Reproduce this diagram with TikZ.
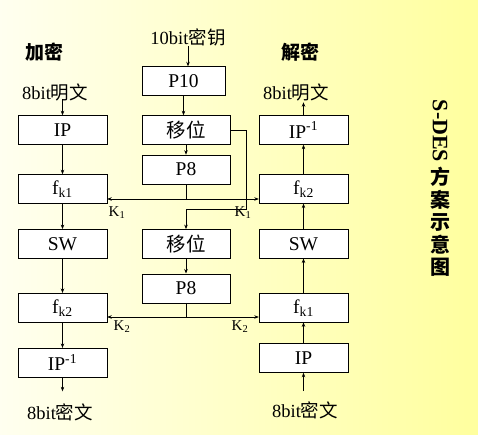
\documentclass[tikz,border=0pt]{standalone}
\usepackage{fontspec}
\setmainfont{Liberation Serif}
\newfontfamily\cjk{Noto Sans CJK SC}
\usetikzlibrary{arrows.meta,positioning}

\begin{document}
\begin{tikzpicture}[x=1pt,y=-1pt,
box/.style={draw,fill=white,minimum height=29pt,minimum width=89pt,inner sep=0pt,font=\fontsize{19.5}{21}\selectfont},
arrow/.style={-{Stealth[length=4.5pt,width=3.5pt]},line width=0.6pt},
line/.style={line width=0.6pt},
lbl/.style={inner sep=0pt,font=\fontsize{18.5}{20}\selectfont},
key/.style={inner sep=0pt,font=\fontsize{15}{17}\selectfont}
]
% background
\fill[left color=yellow!6,right color=yellow!38] (0,0) rectangle (478,435);

% encryption
\node[lbl,font=\cjk\fontsize{19}{20}\selectfont\bfseries] (enc) at (44,52) {加密};
\node[lbl] (inL) at (55,92) {8bit{\cjk 明文}};
\node[box] (ipL) at (62.5,130) {IP};
\node[box,below=29.5pt of ipL] (fk1L) {f\textsubscript{k1}};
\node[box,below=25.5pt of fk1L] (swL) {SW};
\node[box,below=34.5pt of swL] (fk2L) {f\textsubscript{k2}};
\node[box,below=25.5pt of fk2L] (ipiL) {IP\textsuperscript{-1}};
\node[lbl] (outL) at (60,412) {8bit{\cjk 密文}};

% key generation
\node[lbl] (key) at (188,37) {10bit{\cjk 密钥}};
\node[box,minimum width=83pt] (p10) at (183.5,81) {P10};
\node[box,minimum width=88pt] (shA) at (186,130) {\cjk 移位};
\node[box,minimum width=88pt,below=10pt of shA] (p8a) {P8};
\node[box,minimum width=88pt,below=45pt of p8a] (shB) {\cjk 移位};
\node[box,minimum width=88pt,below=15pt of shB] (p8b) {P8};

% decryption
\node[lbl,font=\cjk\fontsize{19}{20}\selectfont\bfseries] (dec) at (300,52) {解密};
\node[lbl] (outR) at (296,92) {8bit{\cjk 明文}};
\node[box] (ipiR) at (303.5,130) {IP\textsuperscript{-1}};
\node[box,below=29.5pt of ipiR] (fk2R) {f\textsubscript{k2}};
\node[box,below=25.5pt of fk2R] (swR) {SW};
\node[box,below=34.5pt of swR] (fk1R) {f\textsubscript{k1}};
\node[box,below=21pt of fk1R] (ipR) {IP};
\node[lbl] (inR) at (305,410) {8bit{\cjk 密文}};

% title
\node[inner sep=0pt,rotate=-90,font=\fontsize{22}{22}\selectfont\bfseries] (title) at (440,131) {S-DES};
\node[inner sep=0pt,align=center,font=\cjk\fontsize{20}{22.5}\selectfont\bfseries] (titlecn) at (440,222) {方\\案\\示\\意\\图};

% encryption flow
\draw[arrow] (inL.south -| ipL) ++(0,-2) -- (ipL);
\draw[arrow] (ipL) -- (fk1L);
\draw[arrow] (fk1L) -- (swL);
\draw[arrow] (swL) -- (fk2L);
\draw[arrow] (fk2L) -- (ipiL);
\draw[arrow] (ipiL.south) -- ++(0,14);

% key flow
\draw[arrow] (key) -- (key |- p10.north);
\draw[arrow] (p10) -- (p10 |- shA.north);
\draw[arrow] (shA) -- (p8a);
\coordinate (bend) at (246,209);
\draw[arrow] (shA.east) -| (bend) -| (shB.north);
\draw[arrow] (shB) -- (p8b);
\coordinate (k1) at (p8a.south |- 0,199);
\coordinate (k2) at (p8b.south |- 0,317);
\draw[line] (p8a.south) -- (k1);
\draw[arrow] (k1) -- (k1 -| fk1L.east);
\draw[arrow] (k1) -- (k1 -| fk2R.west);
\draw[line] (p8b.south) -- (k2);
\draw[arrow] (k2) -- (k2 -| fk2L.east);
\draw[arrow] (k2) -- (k2 -| fk1R.west);
\node[key] (k1L) at (117,213) {K\textsubscript{1}};
\node[key] (k1R) at (243,213) {K\textsubscript{1}};
\node[key] (k2L) at (122,327) {K\textsubscript{2}};
\node[key] (k2R) at (240,327) {K\textsubscript{2}};

% decryption flow
\draw[arrow] (inR.north -| ipR) ++(0,-10) -- (ipR);
\draw[arrow] (ipR) -- (fk1R);
\draw[arrow] (fk1R) -- (swR);
\draw[arrow] (swR) -- (fk2R);
\draw[arrow] (fk2R) -- (ipiR);
\draw[arrow] (ipiR.north) -- ++(0,-13);
\end{tikzpicture}
\end{document}
